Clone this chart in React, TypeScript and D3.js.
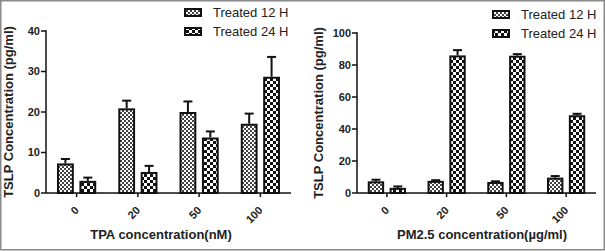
import React from "react";
import * as d3 from "d3";

const categories = ["0", "20", "50", "100"];
const seriesNames = ["Treated 12 H", "Treated 24 H"];

const tpa12 = [7.3, 20.9, 20.0, 17.1];
const tpa12Err = [1.1, 1.9, 2.6, 2.5];
const tpa24 = [3.0, 5.2, 13.7, 28.7];
const tpa24Err = [0.8, 1.5, 1.5, 4.9];

const pm12 = [7.3, 7.6, 6.9, 9.6];
const pm12Err = [1.0, 0.4, 0.4, 1.0];
const pm24 = [3.2, 86.0, 85.8, 48.6];
const pm24Err = [0.9, 3.3, 1.0, 0.9];

const tpaTicks = [0, 10, 20, 30, 40];
const pmTicks = [0, 20, 40, 60, 80, 100];

const FONT = "'Liberation Sans', Arial, Helvetica, sans-serif";

type PanelProps = {
  x0: number;
  x1: number;
  yTop: number;
  yBottom: number;
  yMax: number;
  ticks: number[];
  v12: number[];
  e12: number[];
  v24: number[];
  e24: number[];
  xTitle: string;
  xTitleCenter: number;
  yTitleX: number;
  legendX: number;
  legendY: number;
};

function Panel(p: PanelProps) {
  const y = d3.scaleLinear().domain([0, p.yMax]).range([p.yBottom, p.yTop]);
  const xb = d3
    .scaleBand<string>()
    .domain(categories)
    .range([p.x0, p.x1])
    .paddingInner(0.36)
    .paddingOuter(0.18);
  const xi = d3
    .scaleBand<string>()
    .domain(seriesNames)
    .range([0, xb.bandwidth()])
    .paddingInner(0.25);
  const bw = xi.bandwidth();
  const series = [
    { name: seriesNames[0], vals: p.v12, errs: p.e12, fill: "url(#pat12)" },
    { name: seriesNames[1], vals: p.v24, errs: p.e24, fill: "url(#pat24)" },
  ];
  const centerX = (c: string) => (xb(c) as number) + xb.bandwidth() / 2;
  const yMid = (p.yTop + p.yBottom) / 2;
  return (
    <g>
      {/* bars */}
      {series.map((s) =>
        categories.map((c, i) => {
          const bx = (xb(c) as number) + (xi(s.name) as number);
          const top = y(s.vals[i]);
          const errTop = y(s.vals[i] + s.errs[i]);
          const cx = bx + bw / 2;
          return (
            <g key={s.name + c}>
              <line x1={cx} x2={cx} y1={top} y2={errTop} stroke="#111" strokeWidth={2} />
              <line x1={cx - 4.5} x2={cx + 4.5} y1={errTop} y2={errTop} stroke="#111" strokeWidth={2} />
              <rect
                x={bx + 1}
                y={top + 1}
                width={bw - 2}
                height={Math.max(0, p.yBottom - top - 1)}
                fill={s.fill}
                stroke="#111"
                strokeWidth={2}
              />
            </g>
          );
        })
      )}
      {/* y axis */}
      <line x1={p.x0} x2={p.x0} y1={p.yTop - 0.75} y2={p.yBottom} stroke="#111" strokeWidth={1.5} />
      {p.ticks.map((t) => (
        <g key={"yt" + t}>
          <line x1={p.x0 - 5} x2={p.x0} y1={y(t)} y2={y(t)} stroke="#111" strokeWidth={1.5} />
          <text
            x={p.x0 - 6}
            y={y(t)}
            dy="0.36em"
            textAnchor="end"
            fontFamily={FONT}
            fontWeight="bold"
            fontSize={11}
            fill="#222"
          >
            {t}
          </text>
        </g>
      ))}
      {/* x axis */}
      <line x1={p.x0} x2={p.x1} y1={p.yBottom} y2={p.yBottom} stroke="#111" strokeWidth={1.5} />
      {categories.map((c) => (
        <g key={"xt" + c}>
          <line
            x1={centerX(c)}
            x2={centerX(c)}
            y1={p.yBottom}
            y2={p.yBottom + 4}
            stroke="#111"
            strokeWidth={1.5}
          />
          <text
            transform={`translate(${centerX(c) + 3},${p.yBottom + 18}) rotate(-45)`}
            textAnchor="end"
            fontFamily={FONT}
            fontWeight="bold"
            fontSize={11}
            fill="#222"
          >
            {c}
          </text>
        </g>
      ))}
      <text
        x={p.xTitleCenter}
        y={239}
        textAnchor="middle"
        fontFamily={FONT}
        fontWeight="bold"
        fontSize={13}
        fill="#222"
      >
        {p.xTitle}
      </text>
      <text
        transform={`translate(${p.yTitleX},${yMid}) rotate(-90)`}
        textAnchor="middle"
        fontFamily={FONT}
        fontWeight="bold"
        fontSize={13}
        fill="#222"
      >
        TSLP Concentration (pg/ml)
      </text>
      {/* legend */}
      {series.map((s, i) => (
        <g key={"lg" + s.name}>
          <rect
            x={p.legendX + 1}
            y={p.legendY + i * 19 + 1}
            width={16}
            height={7}
            fill={s.fill}
            stroke="#111"
            strokeWidth={2}
          />
          <text
            x={p.legendX + 29}
            y={p.legendY + i * 19 + 9}
            fontFamily={FONT}
            fontSize={13}
            fill="#222"
          >
            {s.name}
          </text>
        </g>
      ))}
    </g>
  );
}

export default function App() {
  return (
    <div style={{ position: "fixed", left: 0, top: 0 }}>
      <svg width={605} height={251} style={{ display: "block", background: "#fff" }}>
        <defs>
          <pattern id="pat12" patternUnits="userSpaceOnUse" width={4} height={4}>
            <rect width={4} height={4} fill="#fff" />
            <rect width={2} height={2} fill="#444" />
            <rect x={2} y={2} width={2} height={2} fill="#444" />
          </pattern>
          <pattern id="pat24" patternUnits="userSpaceOnUse" width={6} height={6}>
            <rect width={6} height={6} fill="#fff" />
            <rect width={3} height={3} fill="#111" />
            <rect x={3} y={3} width={3} height={3} fill="#111" />
          </pattern>
        </defs>
        <rect x={0.75} y={0.75} width={603.5} height={249} fill="#fff" stroke="#8a8a8a" strokeWidth={1.5} />
        <Panel
          x0={46}
          x1={291}
          yTop={31}
          yBottom={193}
          yMax={40}
          ticks={tpaTicks}
          v12={tpa12}
          e12={tpa12Err}
          v24={tpa24}
          e24={tpa24Err}
          xTitle="TPA concentration(nM)"
          xTitleCenter={161}
          yTitleX={13}
          legendX={184}
          legendY={8}
        />
        <Panel
          x0={357}
          x1={596}
          yTop={33}
          yBottom={193}
          yMax={100}
          ticks={pmTicks}
          v12={pm12}
          e12={pm12Err}
          v24={pm24}
          e24={pm24Err}
          xTitle="PM2.5 concentration(µg/ml)"
          xTitleCenter={482}
          yTitleX={323}
          legendX={492}
          legendY={10}
        />
      </svg>
    </div>
  );
}
